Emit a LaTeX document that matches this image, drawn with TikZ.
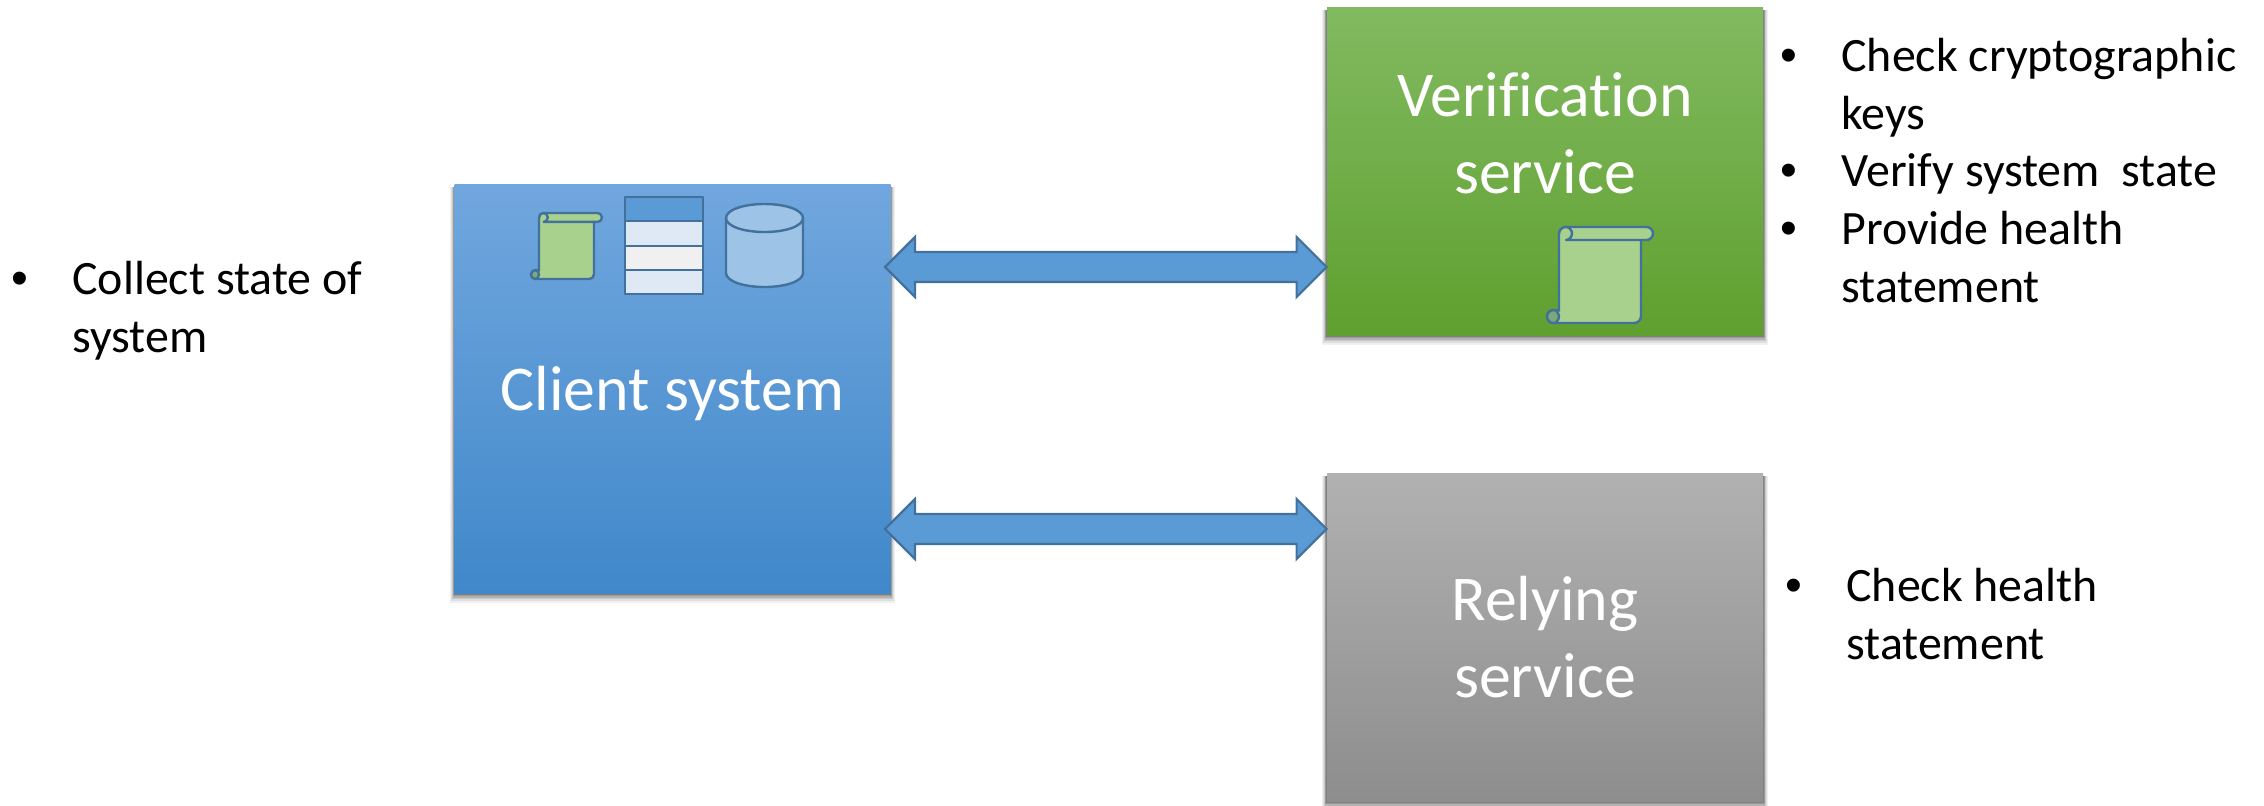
\documentclass[tikz,border=0pt]{standalone}
\usepackage{fontspec}
\setmainfont{Carlito}[Ligatures=NoCommon]
\newfontfamily\bulletfont{Liberation Sans}
\usetikzlibrary{calc}
\definecolor{edgeblue}{HTML}{41719C}
\definecolor{arrowblue}{HTML}{5B9BD5}
\definecolor{scrollgreen}{HTML}{A9D18E}
\definecolor{curlgreen}{HTML}{7FA877}
\definecolor{rowblue}{HTML}{DEE9F5}
\definecolor{rowgrey}{HTML}{F0F0F0}
\definecolor{cylblue}{HTML}{9DC3E6}
\tikzset{
  x=0.5pt,y=-0.5pt,
  boxbase/.style={rectangle,inner sep=0pt,text=white,align=center,
    font=\fontsize{31.9pt}{38.3pt}\selectfont,minimum width=218pt},
  clientbox/.style={boxbase,minimum height=204.5pt,top color=clienttop,bottom color=clientbot},
  verifbox/.style={boxbase,minimum height=164pt,top color=verittop,bottom color=veritbot},
  relybox/.style={boxbase,minimum height=164pt,top color=relytop,bottom color=relybot},
  bulletlist/.style={anchor=north west,inner sep=0pt,align=left,text=black,
    font=\fontsize{23.95pt}{28.8pt}\selectfont},
  blockarrow/.style={draw=edgeblue,fill=arrowblue,line width=1.1pt,line join=miter},
  iconline/.style={draw=edgeblue,line width=1.2pt,line join=round},
}
\definecolor{clienttop}{HTML}{71A7DE}
\definecolor{clientbot}{HTML}{4088CA}
\definecolor{verittop}{HTML}{82BA61}
\definecolor{veritbot}{HTML}{5FA02F}
\definecolor{relytop}{HTML}{B1B1B1}
\definecolor{relybot}{HTML}{8D8D8D}
\newcommand{\bul}{{\bulletfont •}}
% soft shadow behind a box: x0 y0 x1 y1
\newcommand{\softshadow}[4]{%
  \foreach \k/\g in {6/6,5/13,4/21,3/30,2/40,1/50}{%
    \fill[black!\g] ({#1-\k*0.8},{#2+3}) rectangle ({#3+\k*0.8},{#4+\k*1.6});}}
% block arrow between two named coordinates
\newcommand{\blockbetween}[2]{%
  \draw[blockarrow] (#1)
    -- ($(#1)+(30,-30)$) -- ($(#1)+(30,-15)$)
    -- ($(#2)+(-30,-15)$) -- ($(#2)+(-30,-30)$)
    -- (#2)
    -- ($(#2)+(-30,30)$) -- ($(#2)+(-30,15)$)
    -- ($(#1)+(30,15)$) -- ($(#1)+(30,30)$) -- cycle;}
% scroll icon, drawn in a 106 x 96 box
\newcommand{\scrollicon}[4]{%
  \begin{scope}[shift={(#1,#2)},xscale=#3/106,yscale=#4/96]
    \path[iconline,fill=scrollgreen]
      (12,84) -- (12,7) .. controls (12,3) and (15,0) .. (19,0)
      -- (99.5,0) .. controls (103,0) and (106,3) .. (106,6.5)
      .. controls (106,10) and (103,13) .. (99.5,13) -- (94,13)
      -- (94,89) .. controls (94,93) and (91,96) .. (87,96)
      -- (6.5,96) .. controls (3,96) and (0,93) .. (0,89.5)
      .. controls (0,86) and (3,83) .. (6.5,83) -- (12,83) -- cycle;
    \path[iconline,fill=curlgreen]
      (12,89.5) .. controls (12,86) and (9,83) .. (6.5,83)
      .. controls (3,83) and (0,86) .. (0,89.5)
      .. controls (0,93) and (3,96) .. (6.5,96)
      .. controls (9,96) and (12,93) .. (12,89.5) -- cycle;
    \path[iconline,fill=scrollgreen]
      (12,7) .. controls (12,3) and (15,0) .. (19,0)
      .. controls (22,0) and (25,3) .. (25,6.5)
      .. controls (25,10) and (22,13) .. (19,13)
      -- (25,13) -- (94,13);
  \end{scope}}
\begin{document}
\begin{tikzpicture}
\useasboundingbox (0,0) rectangle (2264,805);
\softshadow{455}{184}{890}{593}
\softshadow{1327}{7}{1763}{335}
\softshadow{1327}{473}{1763}{801}
\node[clientbox] (client) at (672.5,388.5) {};
\node[verifbox] (verif) at (1545,171) {};
\node[relybox] (rely) at (1545,637) {Relying\\service};
\node[boxbase] (clienttext) at (672.5,393) {Client system};
\node[boxbase] (veriftext) at (1545,133) {Verification\\service};

\coordinate (a1l) at (885,267);
\coordinate (a1r) at (verif.west |- a1l);
\coordinate (a2l) at (885,529);
\coordinate (a2r) at (rely.west |- a2l);
\blockbetween{a1l}{a1r}
\blockbetween{a2l}{a2r}

% icons in client box
\scrollicon{531}{213}{71}{66}
\path[iconline,fill=arrowblue] (625,197) rectangle (703,221);
\path[iconline,fill=rowblue] (625,221) rectangle (703,246);
\path[iconline,fill=rowgrey] (625,246) rectangle (703,270);
\path[iconline,fill=rowblue] (625,270) rectangle (703,294);
\path[iconline,fill=cylblue]
  (726,218) .. controls (726,210) and (743,204) .. (764.5,204)
  .. controls (786,204) and (803,210) .. (803,218)
  -- (803,273) .. controls (803,281) and (786,287) .. (764.5,287)
  .. controls (743,287) and (726,281) .. (726,273) -- cycle;
\path[iconline]
  (726,218) .. controls (726,226) and (743,232) .. (764.5,232)
  .. controls (786,232) and (803,226) .. (803,218);
% icon in verification box
\scrollicon{1547}{227}{106}{96}

\node[bulletlist] (leftlist) at (11,254) {\begin{tabular}{@{}p{30.5pt}@{}l@{}}\bul&Collect state of\\&system\end{tabular}};
\node[bulletlist] (veriflist) at (1780,31) {\begin{tabular}{@{}p{30.5pt}@{}l@{}}\bul&Check cryptographic\\&keys\\\bul&Verify system\ \ state\\\bul&Provide health\\&statement\end{tabular}};
\node[bulletlist] (relylist) at (1785,561) {\begin{tabular}{@{}p{30.5pt}@{}l@{}}\bul&Check health\\&statement\end{tabular}};
\end{tikzpicture}
\end{document}
